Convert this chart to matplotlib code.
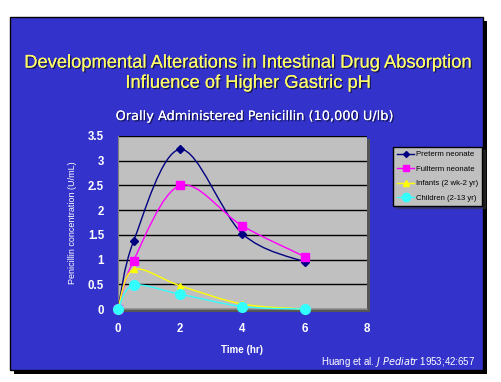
import matplotlib.pyplot as plt
import matplotlib.patches as mpatches
import matplotlib.patheffects as pe
from matplotlib.path import Path

# Datos
time_hr = [0, 0.5, 2, 4, 6]
preterm = [0, 1.37, 3.23, 1.52, 0.95]
fullterm = [0, 0.98, 2.5, 1.68, 1.06]
infants = [0, 0.80, 0.47, 0.10, 0.0]
children = [0, 0.48, 0.30, 0.05, 0.0]

labels = ['Preterm neonate', 'Fullterm neonate', 'Infants (2 wk-2 yr)', 'Children (2-13 yr)']
colors = ['#000080', '#ff00ff', '#ffff00', '#33ffff']
markers = ['D', 's', '^', 'o']
msizes = [4, 6, 5, 7]

BLUE = '#3333cc'


# Curva suavizada tipo Excel (Bezier cúbica)
def smooth_path(xs, ys):
    pts = list(zip(xs, ys))
    verts = [pts[0]]
    codes = [Path.MOVETO]
    n = len(pts)
    for i in range(n - 1):
        p0 = pts[i - 1] if i > 0 else pts[i]
        p1 = pts[i]
        p2 = pts[i + 1]
        p3 = pts[i + 2] if i + 2 < n else pts[i + 1]
        c1 = (p1[0] + (p2[0] - p0[0]) / 6, p1[1] + (p2[1] - p0[1]) / 6)
        c2 = (p2[0] - (p3[0] - p1[0]) / 6, p2[1] - (p3[1] - p1[1]) / 6)
        verts += [c1, c2, p2]
        codes += [Path.CURVE4] * 3
    return Path(verts, codes)


fig = plt.figure(figsize=(5.02, 3.82), dpi=100)
fig.patch.set_facecolor('white')

# fondo de la diapositiva
fig.patches.append(mpatches.Rectangle((0.028, 0.022), 0.942, 0.924, transform=fig.transFigure,
                                      facecolor='black', edgecolor='none', zorder=-3))
fig.patches.append(mpatches.Rectangle((0.020, 0.031), 0.942, 0.924, transform=fig.transFigure,
                                      facecolor=BLUE, edgecolor='black', lw=1, zorder=-2))
# sombra del área del gráfico
fig.patches.append(mpatches.Rectangle((0.241, 0.183), 0.496, 0.453, transform=fig.transFigure,
                                      facecolor='#555555', edgecolor='none', zorder=-1))

shadow = [pe.withSimplePatchShadow(offset=(1, -1), shadow_rgbFace='#111144', alpha=0.9), pe.Normal()]

fig.text(0.495, 0.835, 'Developmental Alterations in Intestinal Drug Absorption',
         ha='center', va='center', color='#ffff66', fontsize=13.2, family='Liberation Sans',
         path_effects=shadow)
fig.text(0.495, 0.782, 'Influence of Higher Gastric pH',
         ha='center', va='center', color='#ffff66', fontsize=13.2, family='Liberation Sans',
         path_effects=shadow)
fig.text(0.508, 0.695, 'Orally Administered Penicillin (10,000 U/lb)',
         ha='center', va='center', color='white', fontsize=9.3, family='DejaVu Sans',
         path_effects=shadow)

ax = fig.add_axes([0.235, 0.191, 0.496, 0.453])
ax.set_facecolor('#c0c0c0')

series = [preterm, fullterm, infants, children]
for ys, lab, c, m, ms in zip(series, labels, colors, markers, msizes):
    ax.add_patch(mpatches.PathPatch(smooth_path(time_hr, ys), facecolor='none', edgecolor=c,
                                    lw=1, zorder=3, clip_on=False))
    ax.plot(time_hr, ys, linestyle='none', marker=m, color=c, markersize=ms, zorder=4,
            clip_on=False)
    ax.plot([], [], color=c, marker=m, markersize=ms - 1, lw=1, label=lab)

ax.set_xlim(0, 8)
ax.set_ylim(0, 3.5)
ax.set_xticks([0, 2, 4, 6, 8])
ax.set_yticks([0, 0.5, 1, 1.5, 2, 2.5, 3, 3.5])
ax.set_yticklabels(['0', '0.5', '1', '1.5', '2', '2.5', '3', '3.5'])
ax.grid(axis='y', color='black', lw=1)
ax.set_axisbelow(True)
for s in ['top', 'right']:
    ax.spines[s].set_visible(False)
ax.spines['left'].set_color('#808080')
ax.spines['bottom'].set_color('#808080')
ax.tick_params(colors='white', length=0, labelsize=8.3)
ax.tick_params(axis='y', pad=10)
ax.tick_params(axis='x', pad=10)
for t in ax.get_xticklabels() + ax.get_yticklabels():
    t.set_fontweight('bold')
    t.set_family('Liberation Sans')

ax.set_xlabel('Time (hr)', color='white', fontsize=7, fontweight='bold',
              family='Liberation Sans', labelpad=7)
ax.set_ylabel('Penicillin concentration (U/mL)', color='white', fontsize=6.5,
              family='Liberation Sans', labelpad=8)

leg = ax.legend(loc='upper left', bbox_to_anchor=(0.783, 0.615), bbox_transform=fig.transFigure,
                fancybox=False, shadow=True, framealpha=1, facecolor='#c0c0c0',
                edgecolor='black', fontsize=5.6, handlelength=2.2, handletextpad=0.2,
                borderpad=0.5, labelspacing=0.9, borderaxespad=0)
for t in leg.get_texts():
    t.set_family('Liberation Sans')

fig.text(0.947, 0.052, 'Huang et al. $\\it{J\\ Pediatr}$ 1953;42:657', ha='right', va='center',
         color='white', fontsize=7, family='Liberation Sans')

fig.savefig('out.png', dpi=100, facecolor='white')
